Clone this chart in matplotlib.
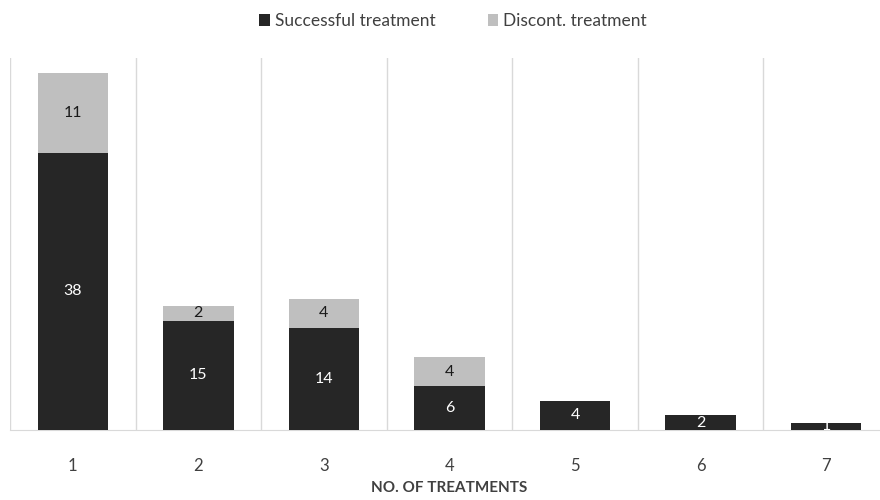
import matplotlib.pyplot as plt
import numpy as np

# ---------------------------------------------------------------------------
# Data
# ---------------------------------------------------------------------------
categories = ["1", "2", "3", "4", "5", "6", "7"]
successful = [38, 15, 14, 6, 4, 2, 1]
discontinued = [11, 2, 4, 4, 0, 0, 0]

SUCCESS_COLOR = "#262626"
DISCONT_COLOR = "#bfbfbf"
GRID_COLOR = "#d9d9d9"
TEXT_COLOR = "#404040"

plt.rcParams["font.family"] = ["Lato", "DejaVu Sans"]

fig = plt.figure(figsize=(8.8, 5.0), dpi=100)
ax = fig.add_axes([10 / 880, 70 / 500, 879 / 880, 372 / 500])

x = np.arange(len(categories))
width = 0.56

bars_s = ax.bar(x, successful, width, color=SUCCESS_COLOR, label="Successful treatment", zorder=3)
bars_d = ax.bar(x, discontinued, width, bottom=successful, color=DISCONT_COLOR,
                label="Discont. treatment", zorder=3)

# Value labels in the middle of each segment
for bar, v in zip(bars_s, successful):
    if v:
        ax.text(bar.get_x() + bar.get_width() / 2, bar.get_y() + v / 2, str(v),
                ha="center", va="center", color="white", fontsize=11.5, zorder=4)
for bar, v in zip(bars_d, discontinued):
    if v:
        ax.text(bar.get_x() + bar.get_width() / 2, bar.get_y() + v / 2, str(v),
                ha="center", va="center", color="#1a1a1a", fontsize=11.5, zorder=4)

ax.set_xlim(-0.5, len(categories) - 0.5)
ax.set_ylim(0, 51)
ax.set_yticks([])
ax.set_xticks(x)
ax.set_xticklabels(categories, fontsize=12, color=TEXT_COLOR)
ax.tick_params(axis="x", length=0, pad=20)

# Vertical separators between categories
ax.set_xticks(np.arange(-0.5, len(categories) + 0.5, 1), minor=True)
ax.tick_params(axis="x", which="minor", length=0)
ax.grid(axis="x", which="minor", color=GRID_COLOR, linewidth=1, zorder=0)
ax.grid(axis="x", which="major", visible=False)

for side in ("top", "right", "left"):
    ax.spines[side].set_visible(False)
ax.spines["bottom"].set_color(GRID_COLOR)

fig.text(0.51, 1 - 488 / 500, "NO. OF TREATMENTS", ha="center", va="center",
         fontsize=11, fontweight="bold", color=TEXT_COLOR)

fig.legend(loc="upper center", bbox_to_anchor=(0.515, 1.005), ncol=2, frameon=False,
           fontsize=12.5, labelcolor=TEXT_COLOR, handlelength=0.6, handleheight=0.6,
           handletextpad=0.3, columnspacing=3.0)

fig.savefig("out.png", dpi=100)
plt.close(fig)
